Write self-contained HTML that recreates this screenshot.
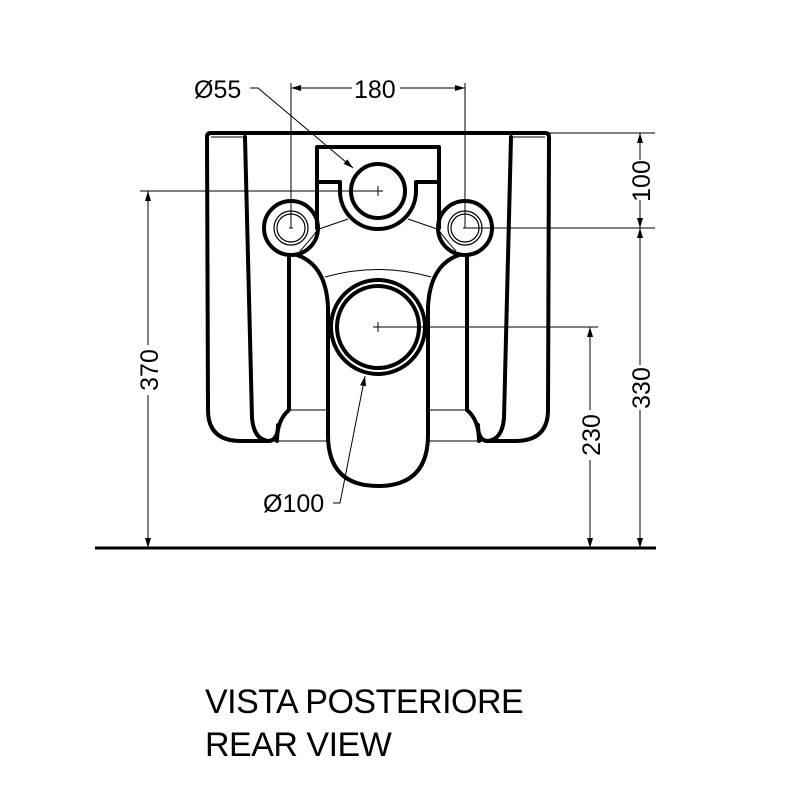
<!DOCTYPE html>
<html><head><meta charset="utf-8"><style>html,body{margin:0;padding:0;background:#fff}svg{display:block}</style></head>
<body>
<svg width="800" height="800" viewBox="0 0 800 800" xmlns="http://www.w3.org/2000/svg">
<defs><marker id="a" markerWidth="10" markerHeight="6" refX="10" refY="3" orient="auto-start-reverse" markerUnits="userSpaceOnUse"><path d="M0,0 L10,3 L0,6 Z" fill="#000"/></marker></defs>
<g fill="none" stroke="#000" stroke-linecap="round" stroke-linejoin="round">
<path d="M207,137 Q207,133 211,133 L545,133 Q549,133 549,137 L548,410 Q548,441 515,441 L488,441 Q478,441 478,425 M207,137 L208,410 Q208,441 241,441 L268,441 Q278,441 278,425" stroke-width="4"/>
<path d="M245,137 L252,418 Q254,441 270,441 M511,137 L504,418 Q502,441 486,441" stroke-width="4"/>
<path d="M289,257 L289,410 Q277,420 277,441 M467,257 L467,410 Q479,420 479,441" stroke-width="4"/>
<path d="M297,255 Q326,265 328,307 L328,435 Q328,486 378,486 Q428,486 428,435 L428,307 Q430,265 459,255" stroke-width="4"/>
<circle cx="291" cy="228" r="27" stroke-width="4"/>
<circle cx="291" cy="228" r="17" stroke-width="1.2"/>
<circle cx="291" cy="228" r="14" stroke-width="1.2"/>
<circle cx="465" cy="228" r="27" stroke-width="4"/>
<circle cx="465" cy="228" r="17" stroke-width="1.2"/>
<circle cx="465" cy="228" r="14" stroke-width="1.2"/>
<path d="M317,228 L317,147 L439,147 L439,228 M317,182 L340,182 L340,191 A38,38 0 0 0 416,191 L416,182 L439,182" stroke-width="4"/>
<circle cx="378" cy="191" r="27" stroke-width="4"/>
<circle cx="378" cy="327" r="47" stroke-width="4"/>
<circle cx="378" cy="327" r="41" stroke-width="4"/>
</g>
<g fill="none" stroke="#000" stroke-width="1">
<path d="M319,229 L348,219 M437,229 L408,219"/>
<path d="M325,277 Q378,262 431,277"/>
<path d="M300,251 Q312,238 318,229 M456,251 Q444,238 438,229"/>
<path d="M289,410 L328,410 M428,410 L467,410 M270,441 L328,441 M428,441 L486,441"/>
<path d="M211,137 L245,137 M511,137 L545,137"/>
<path d="M373,191 L383,191 M378,186 L378,196 M373,327 L383,327 M378,322 L378,332 M289,228 L293,228 M463,228 L467,228"/>
<path d="M291,83 L291,228 M465,83 L465,228"/>
<path d="M291,88 L352,88" marker-start="url(#a)"/>
<path d="M400,88 L465,88" marker-end="url(#a)"/>
<path d="M250,88 L258,88 L353,168" marker-end="url(#a)"/>
<path d="M333,503 L340,503 L365,376" marker-end="url(#a)"/>
<path d="M549,133 L655,133 M467,228 L655,228 M383,327 L598,327"/>
<path d="M640,160 L640,133" marker-end="url(#a)"/>
<path d="M640,200 L640,228" marker-end="url(#a)"/>
<path d="M640,365 L640,228" marker-end="url(#a)"/>
<path d="M640,410 L640,548" marker-end="url(#a)"/>
<path d="M590,410 L590,327" marker-end="url(#a)"/>
<path d="M590,460 L590,548" marker-end="url(#a)"/>
<path d="M140,191 L373,191"/>
<path d="M148,345 L148,191" marker-end="url(#a)"/>
<path d="M148,395 L148,548" marker-end="url(#a)"/>
</g>
<line x1="95" y1="548" x2="656" y2="548" stroke="#000" stroke-width="3"/>
<g font-family="'Liberation Sans', sans-serif" font-size="25" fill="#000">
<text x="194" y="98">Ø55</text>
<text x="354" y="98">180</text>
<text x="263" y="512">Ø100</text>
<text transform="translate(650,181) rotate(-90)" text-anchor="middle">100</text>
<text transform="translate(650,388) rotate(-90)" text-anchor="middle">330</text>
<text transform="translate(600,435) rotate(-90)" text-anchor="middle">230</text>
<text transform="translate(158,370) rotate(-90)" text-anchor="middle">370</text>
</g>
<g font-family="'Liberation Sans', sans-serif" font-size="34" fill="#000" letter-spacing="-0.5">
<text x="205" y="713">VISTA POSTERIORE</text>
<text x="205" y="756">REAR VIEW</text>
</g>
</svg>
</body></html>
